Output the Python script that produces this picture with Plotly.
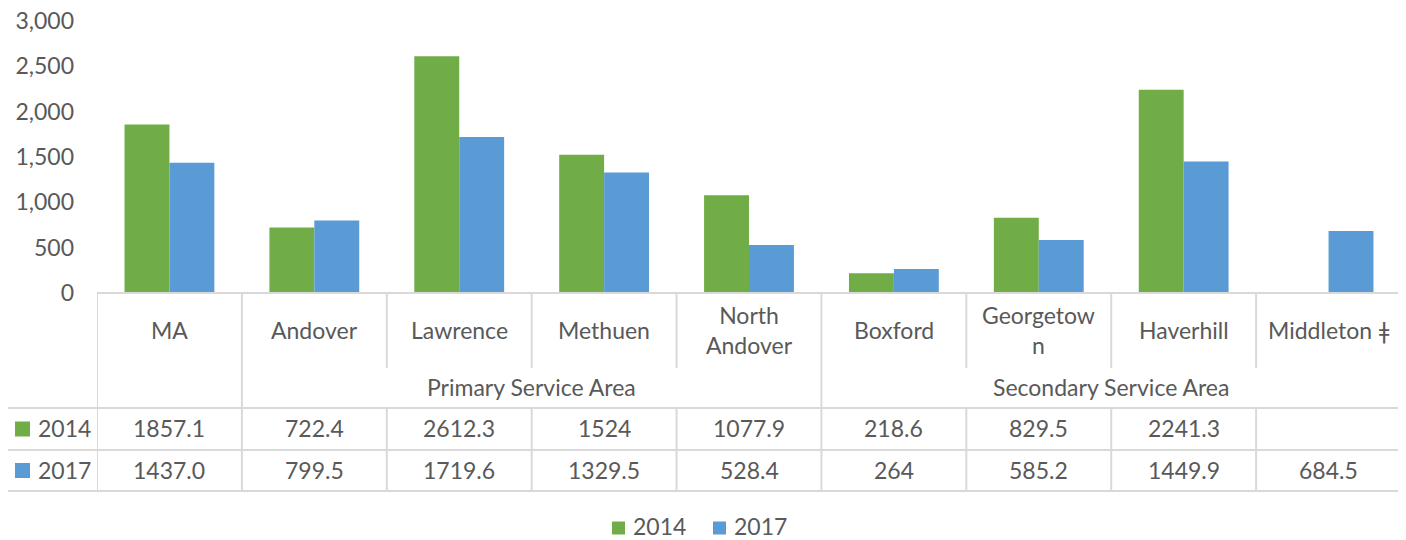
import plotly.graph_objects as go

# ---- data ----
categories = ["MA", "Andover", "Lawrence", "Methuen", "North Andover",
              "Boxford", "Georgetown", "Haverhill", "Middleton ǂ"]
category_labels = ["MA", "Andover", "Lawrence", "Methuen", "North<br>Andover",
                   "Boxford", "Georgetow<br>n", "Haverhill", "Middleton ǂ"]
series_names = ["2014", "2017"]
values_2014 = [1857.1, 722.4, 2612.3, 1524, 1077.9, 218.6, 829.5, 2241.3, None]
values_2017 = [1437.0, 799.5, 1719.6, 1329.5, 528.4, 264, 585.2, 1449.9, 684.5]
table_2014 = ["1857.1", "722.4", "2612.3", "1524", "1077.9", "218.6", "829.5", "2241.3", ""]
table_2017 = ["1437.0", "799.5", "1719.6", "1329.5", "528.4", "264", "585.2", "1449.9", "684.5"]
groups = [("Primary Service Area", 1, 4), ("Secondary Service Area", 5, 8)]
y_ticks = [0, 500, 1000, 1500, 2000, 2500, 3000]

colors = {"2014": "#70AD47", "2017": "#5B9BD5"}
TXT = "#595959"
GRID = "#D9D9D9"
FONT = "Lato"
FS = 23

# the page body has an 8px margin; lay out in window pixels and shift
OFF = 8
W, H = 1406 - OFF, 540 - OFF
L, T = 97 - OFF, 21 - OFF
R = W - (1401 - OFF)
B = H - (293 - OFF)
PH = H - T - B
PW = W - L - R


def py(ypix):
    """window pixel y -> paper y"""
    return (H - B - (ypix - OFF)) / PH


def px(xpix):
    """window pixel x -> paper x"""
    return (xpix - OFF - L) / PW


fig = go.Figure()
for name, vals in zip(series_names, [values_2014, values_2017]):
    fig.add_trace(go.Bar(x=categories, y=vals, name=name,
                         marker=dict(color=colors[name], line=dict(width=0))))

shapes = []
annotations = []
n = len(categories)

# table geometry (window pixels)
y_top, y_cat_bot, y_grp_bot, y_r1_bot, y_r2_bot = 293, 368, 408, 450, 491
x_leg_left = px(7)

# horizontal lines
shapes.append(dict(type="line", xref="x", yref="paper", x0=-0.5, x1=n - 0.5,
                   y0=py(y_top), y1=py(y_top), line=dict(color=GRID, width=2)))
for yy in [y_grp_bot, y_r1_bot, y_r2_bot]:
    shapes.append(dict(type="line", xref="paper", yref="paper", x0=x_leg_left, x1=1,
                       y0=py(yy), y1=py(yy), line=dict(color=GRID, width=2)))

# vertical lines
group_edges = {0, n}
for g in groups:
    group_edges.add(g[1])
    group_edges.add(g[2] + 1)
for k in range(n + 1):
    xv = k - 0.5
    if k in group_edges:
        segs = [(y_top, y_r2_bot)]
    else:
        segs = [(y_top, y_cat_bot), (y_grp_bot, y_r2_bot)]
    for a, b in segs:
        shapes.append(dict(type="line", xref="x", yref="paper", x0=xv, x1=xv,
                           y0=py(a), y1=py(b), line=dict(color=GRID, width=2)))
shapes.append(dict(type="line", xref="paper", yref="paper", x0=x_leg_left, x1=x_leg_left,
                   y0=py(y_grp_bot), y1=py(y_r2_bot), line=dict(color=GRID, width=2)))

# category labels
for c, lab in zip(categories, category_labels):
    annotations.append(dict(x=c, xref="x", y=py((y_top + y_cat_bot) / 2 - 1), yref="paper",
                            text=lab, showarrow=False, xanchor="center", yanchor="middle",
                            font=dict(family=FONT, size=FS, color=TXT)))
# group labels
for gname, i0, i1 in groups:
    annotations.append(dict(x=(i0 + i1) / 2, xref="x", y=py((y_cat_bot + y_grp_bot) / 2 - 1), yref="paper",
                            text=gname, showarrow=False, xanchor="center", yanchor="middle",
                            font=dict(family=FONT, size=FS, color=TXT)))
# data rows
rows = [(table_2014, "2014", y_grp_bot, y_r1_bot), (table_2017, "2017", y_r1_bot, y_r2_bot)]
for labels, name, a, b in rows:
    yc = py((a + b) / 2 - 1)
    for c, t in zip(categories, labels):
        if t:
            annotations.append(dict(x=c, xref="x", y=yc, yref="paper", text=t, showarrow=False,
                                    xanchor="center", yanchor="middle",
                                    font=dict(family=FONT, size=FS, color=TXT)))
    ymid = (a + b) / 2
    shapes.append(dict(type="rect", xref="paper", yref="paper", x0=px(15), x1=px(30),
                       y0=py(ymid - 7.5), y1=py(ymid + 7.5), fillcolor=colors[name],
                       line=dict(width=0)))
    annotations.append(dict(x=px(36), xref="paper", y=yc, yref="paper", text=name,
                            showarrow=False, xanchor="left", yanchor="middle",
                            font=dict(family=FONT, size=FS, color=TXT)))

# bottom legend (Excel-style keys + text)
legend_items = [("2014", 612), ("2017", 713)]
for name, x0 in legend_items:
    shapes.append(dict(type="rect", xref="paper", yref="paper", x0=px(x0), x1=px(x0 + 13),
                       y0=py(528 - 6.5), y1=py(528 + 6.5), fillcolor=colors[name],
                       line=dict(width=0)))
    annotations.append(dict(x=px(x0 + 19), xref="paper", y=py(526), yref="paper", text=name,
                            showarrow=False, xanchor="left", yanchor="middle",
                            font=dict(family=FONT, size=FS, color=TXT)))

fig.update_layout(
    width=W, height=H,
    margin=dict(l=L, r=R, t=T, b=B, autoexpand=False),
    paper_bgcolor="white", plot_bgcolor="white",
    barmode="group", bargap=0.38, bargroupgap=0,
    xaxis=dict(type="category", range=[-0.5, n - 0.5], showticklabels=False,
               showgrid=False, zeroline=False, showline=False, ticks="", automargin=False),
    yaxis=dict(range=[0, 3000], tickvals=y_ticks, tickformat=",", showgrid=False,
               zeroline=False, showline=False, ticks="", ticklabelstandoff=22, automargin=False,
               ticklabeloverflow="allow",
               tickfont=dict(family=FONT, size=FS, color=TXT)),
    showlegend=False,
    shapes=shapes, annotations=annotations,
)

fig.write_html("out.html")
